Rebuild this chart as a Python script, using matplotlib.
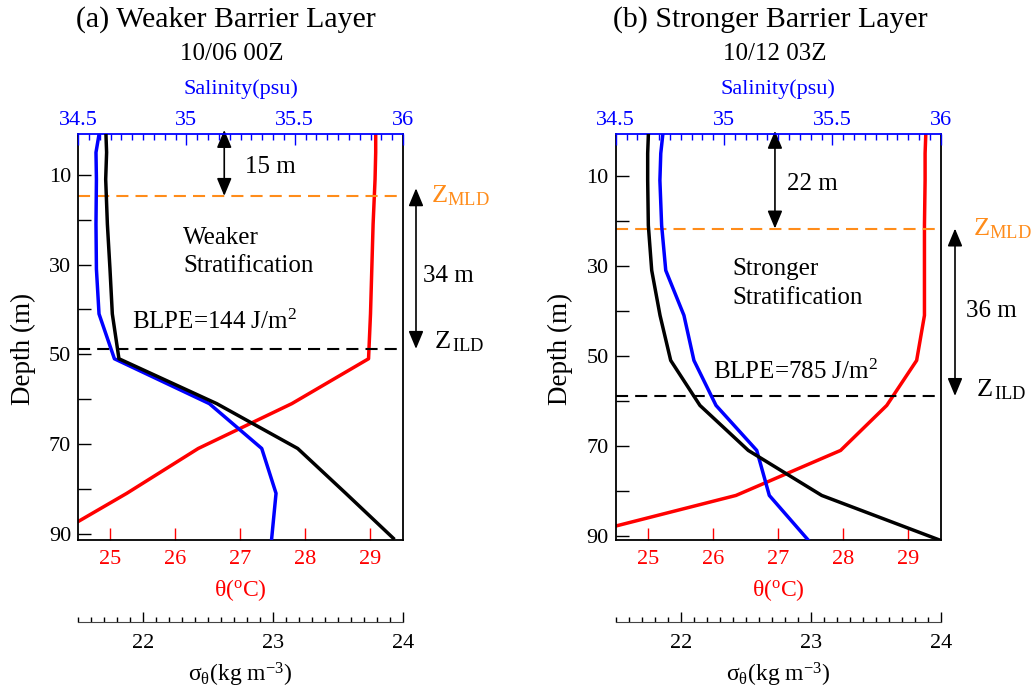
import matplotlib
matplotlib.use('Agg')
import matplotlib.pyplot as plt
from matplotlib.ticker import MultipleLocator, FormatStrFormatter

plt.rcParams['font.family'] = ['Liberation Serif', 'DejaVu Serif']
plt.rcParams['mathtext.fontset'] = 'custom'
plt.rcParams['mathtext.rm'] = 'Liberation Serif'
plt.rcParams['mathtext.it'] = 'Liberation Serif:italic'
plt.rcParams['mathtext.bf'] = 'Liberation Serif:bold'

# depth levels (m)
depth = [1, 5, 11, 21, 31, 41, 51, 61, 71, 81, 91]

# (a) 10/06 00Z
temp_a = [29.08, 29.08, 29.07, 29.04, 29.02, 29.00, 28.97, 27.79, 26.35, 25.25, 24.06]
sal_a = [34.597, 34.583, 34.585, 34.583, 34.585, 34.597, 34.668, 35.106, 35.348, 35.414, 35.394]
sig_a = [21.715, 21.720, 21.713, 21.726, 21.746, 21.764, 21.815, 22.567, 23.190, 23.560, 23.925]
mld_a, ild_a = 14.7, 48.8
mld_text_a, bl_text_a = 15, 34
blpe_a = 144

# (b) 10/12 03Z
temp_b = [29.27, 29.26, 29.26, 29.25, 29.25, 29.25, 29.13, 28.67, 27.96, 26.35, 23.63]
sal_b = [34.717, 34.708, 34.704, 34.712, 34.731, 34.815, 34.861, 34.963, 35.151, 35.209, 35.390]
sig_b = [21.751, 21.746, 21.746, 21.751, 21.777, 21.841, 21.923, 22.148, 22.520, 23.085, 24.000]
mld_b, ild_b = 21.7, 58.9
mld_text_b, bl_text_b = 22, 36
blpe_b = 785

W, H = 1036, 691
fig = plt.figure(figsize=(W / 100, H / 100), dpi=100)

ORANGE = '#FF8C1A'
FS_TICK = 16
FS_TXT = 18


def rect(left, top, right, bottom):
    return [left / W, 1 - bottom / H, (right - left) / W, (bottom - top) / H]


def draw_panel(left, temp, sal, sig, ylim, mld, ild, arrow_top, mld_text, bl_text,
               blpe, strat, title, stamp, title_x, stamp_x, pos):
    ax = fig.add_axes(rect(left, 134, left + 325, 540))
    ax_s = ax.twiny()
    ax_d = ax.twiny()

    ax.plot(temp, depth, color='red', lw=2.5)
    ax_s.plot(sal, depth, color='blue', lw=2.5)
    ax_d.plot(sig, depth, color='black', lw=2.5)

    ax.set_ylim(ylim)
    ax.set_xlim(24.5, 29.5)
    ax_s.set_xlim(34.5, 36)
    ax_d.set_xlim(21.5, 24)

    # depth axis
    ax.set_yticks([10, 30, 50, 70, 90])
    ax.set_yticks([20, 40, 60, 80], minor=True)
    ax.tick_params(axis='y', which='both', direction='in', length=9, width=1,
                   labelsize=FS_TICK, pad=5)
    ax.set_ylabel('Depth (m)', fontsize=19.5)
    ax.yaxis.set_label_coords(-0.13, 0.47)

    # temperature axis (bottom)
    ax.xaxis.set_major_locator(MultipleLocator(1))
    ax.xaxis.set_major_formatter(FormatStrFormatter('%g'))
    ax.tick_params(axis='x', direction='in', length=9, width=1, color='red',
                   labelcolor='red', labelsize=FS_TICK, pad=7)
    ax.set_xlabel('θ($^{\\rm o}$C)', color='red', fontsize=FS_TICK + 1, labelpad=6)
    ax.spines['top'].set_visible(False)
    for s in ['left', 'right', 'bottom']:
        ax.spines[s].set_linewidth(1.3)

    # salinity axis (top)
    ax_s.xaxis.set_major_locator(MultipleLocator(0.5))
    ax_s.xaxis.set_minor_locator(MultipleLocator(0.05))
    ax_s.xaxis.set_major_formatter(FormatStrFormatter('%g'))
    ax_s.tick_params(axis='x', which='major', direction='in', length=8, width=1,
                     color='blue', labelcolor='blue', labelsize=FS_TICK, pad=3)
    ax_s.tick_params(axis='x', which='minor', direction='in', length=4, width=1,
                     color='blue')
    ax_s.set_xlabel('Salinity(psu)', color='blue', fontsize=FS_TICK, labelpad=12)
    for s in ['left', 'right', 'bottom']:
        ax_s.spines[s].set_visible(False)
    ax_s.spines['top'].set_color('blue')
    ax_s.spines['top'].set_linewidth(1.3)

    # density axis (detached, below)
    ax_d.xaxis.tick_bottom()
    ax_d.xaxis.set_label_position('bottom')
    ax_d.spines['bottom'].set_position(('axes', -82 / 406))
    for s in ['left', 'right', 'top']:
        ax_d.spines[s].set_visible(False)
    ax_d.spines['bottom'].set_color('#444444')
    ax_d.xaxis.set_major_locator(MultipleLocator(1))
    ax_d.xaxis.set_minor_locator(MultipleLocator(0.1))
    ax_d.xaxis.set_major_formatter(FormatStrFormatter('%g'))
    ax_d.tick_params(axis='x', which='major', direction='in', length=7, width=1,
                     labelsize=FS_TICK, pad=9)
    ax_d.tick_params(axis='x', which='minor', direction='in', length=3.5, width=1)
    ax_d.set_xlabel('σ$_{\\rm θ}$(kg m$^{-3}$)', fontsize=FS_TICK + 1, labelpad=5)

    # MLD / ILD lines
    ax.axhline(mld, color=ORANGE, ls=(0, (5.8, 3.4)), lw=1.5)
    ax.axhline(ild, color='black', ls=(0, (5.8, 3.4)), lw=1.5)

    arrow = dict(arrowstyle='<|-|>,head_length=0.6,head_width=0.25', color='black',
                 lw=1.2, mutation_scale=18, shrinkA=0, shrinkB=0)
    xa1, t1, xa2, t2, xz, tstr, tbl = pos
    ax.annotate('', xy=(xa1, 0), xytext=(xa1, mld), arrowprops=arrow,
                annotation_clip=False)
    ax.annotate('', xy=(xa2, arrow_top), xytext=(xa2, ild), arrowprops=arrow,
                annotation_clip=False)
    ax.text(t1[0], t1[1], '%d m' % mld_text, fontsize=FS_TXT, va='center')
    ax.text(t2[0], t2[1], '%d m' % bl_text, fontsize=FS_TXT, va='center')
    ax.text(xz, mld + 1.5, r'Z$_{\rm MLD}$', fontsize=19, color=ORANGE,
            va='baseline')
    ax.text(xz + 0.05, ild, r'Z$_{\,\rm ILD}$', fontsize=19, va='baseline')
    ax.text(tstr[0], tstr[1], strat + '\nStratification', fontsize=FS_TXT,
            va='center', linespacing=1.4)
    ax.text(tbl[0], tbl[1], r'BLPE=%d J/m$^2$' % blpe, fontsize=FS_TXT, va='center')

    fig.text(title_x / W, 1 - 20 / H, title, fontsize=21.5, ha='center', va='center')
    fig.text(stamp_x / W, 1 - 54 / H, stamp, fontsize=18, ha='center', va='center')
    return ax


draw_panel(78, temp_a, sal_a, sig_a, (91.4, 0.9), mld_a, ild_a, 13.0,
           mld_text_a, bl_text_a, blpe_a,
           'Weaker', '(a) Weaker Barrier Layer', '10/06 00Z', 226, 232,
           (26.75, (27.07, 8.3), 29.70, (29.81, 32.6), 29.93, (26.12, 27.2),
            (25.33, 42.8)))
draw_panel(615.7, temp_b, sal_b, sig_b, (90.9, 0.7), mld_b, ild_b, mld_b,
           mld_text_b, bl_text_b, blpe_b,
           'Stronger', '(b) Stronger Barrier Layer', '10/12 03Z', 770, 775,
           (26.95, (27.13, 11.8), 29.72, (29.89, 40.0), 29.99, (26.30, 34.0),
            (25.99, 53.6)))

fig.savefig('out.png', dpi=100)
